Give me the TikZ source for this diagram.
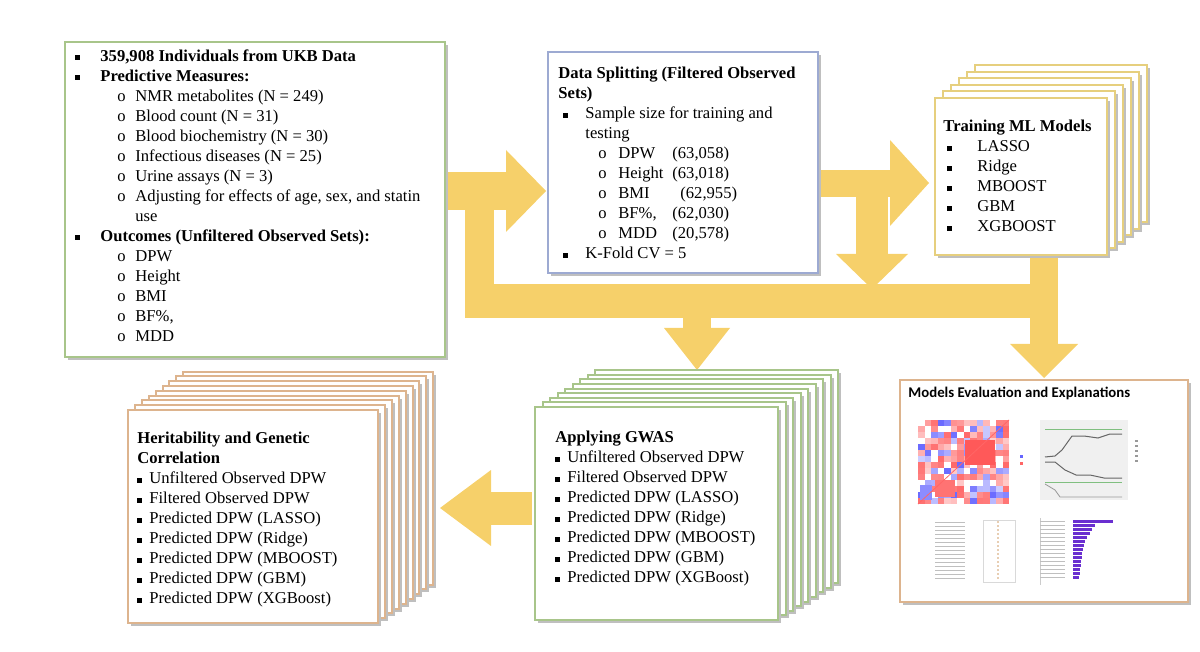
\documentclass[tikz,border=0pt]{standalone}
\usepackage{fontspec}
\setmainfont{Liberation Serif}
\newfontfamily\carl{Carlito}
\definecolor{yel}{HTML}{F6D06A}
\definecolor{grn}{HTML}{A8C58A}
\definecolor{blu}{HTML}{9DAAD2}
\definecolor{org}{HTML}{DDB48E}
\definecolor{tyl}{HTML}{E6CF7E}
\definecolor{purp}{HTML}{6A2FD0}
\newcommand\sqb{\makebox[12.5pt][l]{\raisebox{0.6pt}{\rule{2.4pt}{2.4pt}}}}
\newcommand\sqs{\makebox[6pt][l]{\raisebox{0.6pt}{\rule{2.2pt}{2.2pt}}}}
\newcommand\ob{\hspace*{21pt}\makebox[9pt][l]{o}}
\begin{document}
\begin{tikzpicture}[x=0.5pt,y=-0.5pt,
  txt/.style={anchor=north west,inner sep=0pt,align=left,font=\fontsize{8.3}{10}\selectfont},
  yb/.style={fill=yel,draw=none},
  shad/.style={fill=black!25,draw=none}]
\useasboundingbox (0,0) rectangle (1200,652);
% ---------- yellow block arrows ----------
\fill[yb] (445,172) rectangle (506,210);
\fill[yb] (506,150) -- (546,191) -- (506,232) -- cycle;
\fill[yb] (465,205) rectangle (494,318);
\fill[yb] (465,284) rectangle (1058,318);
\fill[yb] (683,318) rectangle (711,330);
\fill[yb] (664,328) -- (730,328) -- (697,370) -- cycle;
\fill[yb] (1030,255) rectangle (1058,346);
\fill[yb] (1010,344) -- (1078,344) -- (1044,378) -- cycle;
\fill[yb] (818,170) rectangle (892,197);
\fill[yb] (890,140) -- (929,183) -- (890,226) -- cycle;
\fill[yb] (856,195) rectangle (888,256);
\fill[yb] (836,254) -- (908,254) -- (872,289) -- cycle;
\fill[yb] (490,492) rectangle (532,525);
\fill[yb] (491,470) -- (440,508) -- (491,546) -- cycle;
% ---------- box 1 ----------
\fill[shad] (68,45) rectangle (448,360);
\draw[grn,line width=1.2pt,fill=white] (65,42) rectangle (445,357);
\node[txt] (b1) at (75,49) {%
\sqb\textbf{359,908 Individuals from UKB Data}\\
\sqb\textbf{Predictive Measures:}\\
\ob NMR metabolites (N = 249)\\
\ob Blood count (N = 31)\\
\ob Blood biochemistry (N = 30)\\
\ob Infectious diseases (N = 25)\\
\ob Urine assays (N = 3)\\
\ob Adjusting for effects of age, sex, and statin\\
\hspace*{30pt}use\\
\sqb\textbf{Outcomes (Unfiltered Observed Sets):}\\
\ob DPW\\ \ob Height\\ \ob BMI\\ \ob BF\%,\\ \ob MDD};
% ---------- data splitting ----------
\fill[shad] (551,55) rectangle (821,276);
\draw[blu,line width=1.2pt,fill=white] (548,52) rectangle (818,273);
\node[txt] (ds) at (558,67) {%
\textbf{Data Splitting (Filtered Observed}\\
\textbf{Sets)}\\
\hspace*{2.5pt}\makebox[11pt][l]{\raisebox{0.6pt}{\rule{2.4pt}{2.4pt}}}Sample size for training and\\
\hspace*{13.5pt}testing\\
\hspace*{20pt}\makebox[10pt][l]{o}\makebox[27pt][l]{DPW}(63,058)\\
\hspace*{20pt}\makebox[10pt][l]{o}\makebox[27pt][l]{Height}(63,018)\\
\hspace*{20pt}\makebox[10pt][l]{o}\makebox[31pt][l]{BMI}(62,955)\\
\hspace*{20pt}\makebox[10pt][l]{o}\makebox[27pt][l]{BF\%,}(62,030)\\
\hspace*{20pt}\makebox[10pt][l]{o}\makebox[27pt][l]{MDD}(20,578)\\
\hspace*{2.5pt}\makebox[11pt][l]{\raisebox{0.6pt}{\rule{2.4pt}{2.4pt}}}K-Fold CV = 5};
% ---------- training stack ----------
\foreach \i in {5,4,3,2,1,0}{
  \fill[shad] (938+8*\i,101-6.5*\i) rectangle (1110+8*\i,258-6.5*\i);
  \draw[tyl,line width=1pt,fill=white] (935+8*\i,98-6.5*\i) rectangle (1107+8*\i,255-6.5*\i);}
\node[txt] (tr) at (943,120) {%
\textbf{Training ML Models}\\
\hspace*{2pt}\makebox[15pt][l]{\raisebox{0.6pt}{\rule{2.4pt}{2.4pt}}}LASSO\\
\hspace*{2pt}\makebox[15pt][l]{\raisebox{0.6pt}{\rule{2.4pt}{2.4pt}}}Ridge\\
\hspace*{2pt}\makebox[15pt][l]{\raisebox{0.6pt}{\rule{2.4pt}{2.4pt}}}MBOOST\\
\hspace*{2pt}\makebox[15pt][l]{\raisebox{0.6pt}{\rule{2.4pt}{2.4pt}}}GBM\\
\hspace*{2pt}\makebox[15pt][l]{\raisebox{0.6pt}{\rule{2.4pt}{2.4pt}}}XGBOOST};
% ---------- GWAS stack ----------
\foreach \i in {8,7,6,5,4,3,2,1,0}{
  \fill[shad] (538+7.5*\i,410-4.6*\i) rectangle (781+7.5*\i,623-4.6*\i);
  \draw[grn,line width=1pt,fill=white] (535+7.5*\i,407-4.6*\i) rectangle (778+7.5*\i,620-4.6*\i);}
\node[txt] (gw) at (555,431) {%
\textbf{Applying GWAS}\\
\sqs Unfiltered Observed DPW\\
\sqs Filtered Observed DPW\\
\sqs Predicted DPW (LASSO)\\
\sqs Predicted DPW (Ridge)\\
\sqs Predicted DPW (MBOOST)\\
\sqs Predicted DPW (GBM)\\
\sqs Predicted DPW (XGBoost)};
% ---------- heritability stack ----------
\foreach \i in {8,7,6,5,4,3,2,1,0}{
  \fill[shad] (131+6.9*\i,413-4.8*\i) rectangle (381+6.9*\i,626-4.8*\i);
  \draw[org,line width=1pt,fill=white] (128+6.9*\i,410-4.8*\i) rectangle (378+6.9*\i,623-4.8*\i);}
\node[txt] (he) at (137,432) {%
\textbf{Heritability and Genetic}\\
\textbf{Correlation}\\
\sqs Unfiltered Observed DPW\\
\sqs Filtered Observed DPW\\
\sqs Predicted DPW (LASSO)\\
\sqs Predicted DPW (Ridge)\\
\sqs Predicted DPW (MBOOST)\\
\sqs Predicted DPW (GBM)\\
\sqs Predicted DPW (XGBoost)};
% ---------- models evaluation ----------
\fill[shad] (903,383) rectangle (1191,605);
\draw[org,line width=1.2pt,fill=white] (900,380) rectangle (1188,602);
\node[txt,font=\carl\bfseries\fontsize{7.4}{8}\selectfont] (me) at (908,387) {Models Evaluation and Explanations};
% heatmap
\pgfmathsetseed{7}
\foreach \r in {0,...,13}{\foreach \c in {0,...,13}{
  \pgfmathsetmacro{\v}{rnd}
  \pgfmathsetmacro{\w}{int(20+40*rnd)}
  \ifdim\v pt<0.5pt \fill[red!\w!white] (918+6.5*\c,420+6*\r) rectangle ++(6.5,6);
  \else\ifdim\v pt<0.8pt \fill[blue!\w!white] (918+6.5*\c,420+6*\r) rectangle ++(6.5,6);\fi\fi}}
\fill[red!65!white] (965,440) rectangle (995,465);
\fill[red!55!white] (935,480) rectangle (955,497);
\fill[blue!45!white] (920,485) rectangle (932,500);
\draw[red!60,line width=0.4pt] (918,504) -- (1009,420);
\fill[blue!60] (1020,455) rectangle ++(3,3);
\fill[red!60] (1020,462) rectangle ++(3,3);
% line chart
\fill[black!6] (1040,420) rectangle (1128,500);
\draw[black!60,line width=0.5pt] (1045,457) -- (1055,456) -- (1062,450) -- (1072,436) -- (1084,436) -- (1098,438) -- (1110,434) -- (1122,434);
\draw[black!60,line width=0.5pt] (1045,462) -- (1055,462) -- (1065,470) -- (1076,475) -- (1090,475) -- (1104,478) -- (1122,478);
\draw[green!50!black!50,line width=0.4pt] (1045,429) -- (1122,429);
\draw[green!50!black!50,line width=0.4pt] (1045,482) -- (1122,482);
\draw[black!40,line width=0.4pt] (1045,484) -- (1055,490) -- (1060,497) -- (1122,497);
\foreach \k in {0,1,2,3,4}{\fill[black!40] (1135,440+5*\k) rectangle ++(3,2);}
% dot plot
\draw[black!15,line width=0.3pt] (983,520) rectangle (1015,582);
\foreach \k in {0,...,14}{
  \draw[black!25,line width=0.3pt] (935,522+4*\k) -- ++(30,0);
  \fill[orange!70!black!60] (998,522+4*\k) circle (0.8);}
% bar chart
\foreach \L [count=\k from 0] in {40,22,19,17,14,12,11,10,9,9,8,8,7,7,6}{
  \fill[purp] (1073,520+4*\k) rectangle ++(\L,3.3);}
\draw[black!20,line width=0.3pt] (1040,518) -- (1040,585);
\foreach \k in {0,...,14}{\draw[black!25,line width=0.3pt] (1040,521+4*\k) -- ++(25,0);}
\end{tikzpicture}
\end{document}
